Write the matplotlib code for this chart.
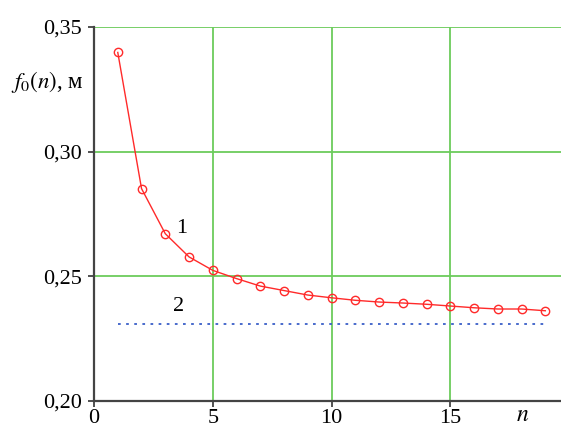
import numpy as np
import matplotlib
matplotlib.use("Agg")
import matplotlib.pyplot as plt

plt.rcParams['font.family'] = ['Liberation Serif', 'DejaVu Serif']
plt.rcParams['mathtext.fontset'] = 'stix'

# data
n = [1, 2, 3, 4, 5, 6, 7, 8, 9, 10, 11, 12, 13, 14, 15, 16, 17, 18, 19]
f0 = [0.3398, 0.2852, 0.2671, 0.2578, 0.2524, 0.2491, 0.2461, 0.2443, 0.2425,
      0.2414, 0.2404, 0.2397, 0.2393, 0.2388, 0.2381, 0.2374, 0.2369, 0.2369, 0.2362]
limit_x = [1, 19]
limit_y = [0.2307, 0.2307]
xticks = [0, 5, 10, 15]
xtick_labels = ["0", "5", "10", "15"]
yticks = [0.20, 0.25, 0.30, 0.35]
ytick_labels = ["0,20", "0,25", "0,30", "0,35"]

fig = plt.figure(figsize=(5.61, 4.30), dpi=100)
ax = fig.add_axes([0.1676, 0.0674, 1 - 0.1676, 0.9372 - 0.0674])

green = '#6ccc5c'
for x in xticks[1:]:
    ax.axvline(x, color=green, lw=1.3, zorder=1)
for y in yticks[1:]:
    ax.axhline(y, color=green, lw=1.3, zorder=1)

ax.plot(n, f0, color='#ff2a2a', lw=1.0, marker='o', markersize=6,
        markerfacecolor='none', markeredgecolor='#ff2a2a', markeredgewidth=1.0, zorder=3)
ax.plot(limit_x, limit_y, color='#3a5fc8', lw=1.3, linestyle=(0, (1.5, 3)), zorder=3)

ax.text(3.7, 0.2693, "1", fontsize=16, ha='center', va='center')
ax.text(3.55, 0.2378, "2", fontsize=16, ha='center', va='center')

ax.set_xlim(0, 19.66)
ax.set_ylim(0.20, 0.35)
ax.set_xticks(xticks)
ax.set_xticklabels(xtick_labels)
ax.set_yticks(yticks)
ax.set_yticklabels(ytick_labels)
ax.tick_params(labelsize=16, direction='out', length=4, width=1.2, color='#333333')
ax.tick_params(axis='y', pad=5)
ax.tick_params(axis='x', pad=1.5)

for s in ['top', 'right']:
    ax.spines[s].set_visible(False)
for s in ['left', 'bottom']:
    ax.spines[s].set_color('#444444')
    ax.spines[s].set_linewidth(1.6)

ax.text(18.05, -0.04, r'$n$', transform=ax.get_xaxis_transform(), fontsize=17,
        ha='center', va='center')
fig.text(0.084, 0.809, r'$f_0(n)$, м', fontsize=16.5, ha='center', va='center')

fig.savefig("out.png", dpi=100)
